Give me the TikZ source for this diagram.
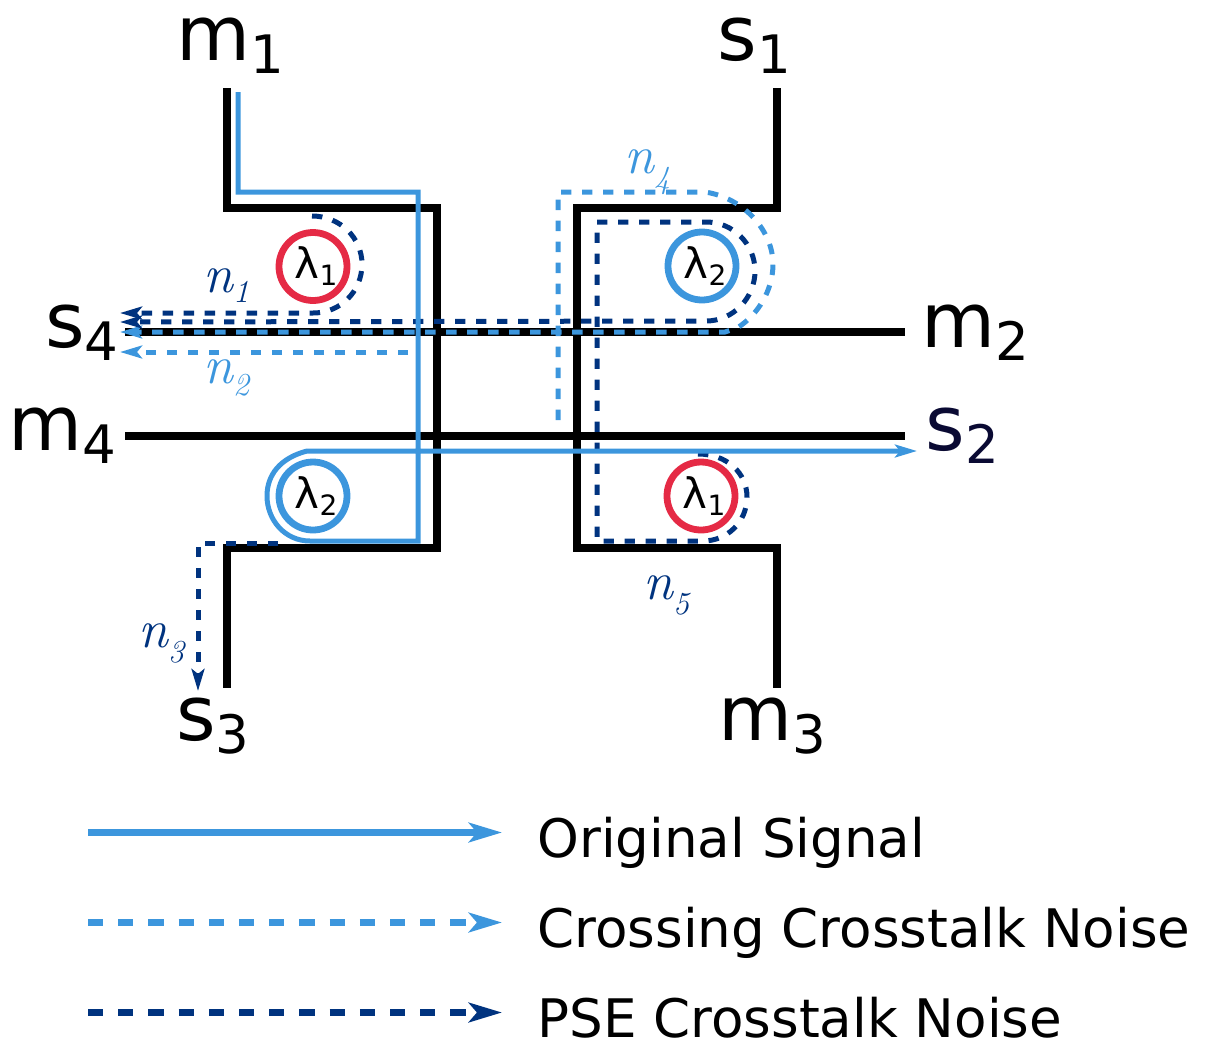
\documentclass[tikz,border=0pt]{standalone}
\usepackage{fontspec}
\setmainfont{DejaVu Sans}
\usetikzlibrary{arrows.meta,positioning,calc}
\definecolor{sigblue}{HTML}{3C96DD}
\definecolor{psenavy}{HTML}{00337F}
\definecolor{ringred}{HTML}{E52A45}
\definecolor{portnavy}{HTML}{0A0A33}
\newcommand{\portname}[2]{#1\raisebox{-6.5pt}{\fontsize{26.5}{26.5}\selectfont #2}}
\newcommand{\noisename}[3][6pt]{#2\raisebox{-#1}{\fontsize{16}{16}\selectfont #3}}
\newcommand{\lamname}[1]{\kern3pt λ\raisebox{-3.5pt}{\fontsize{14}{14}\selectfont #1}}

\begin{document}
\begin{tikzpicture}[
  x=0.5pt,y=-0.5pt,
  wguide/.style={line width=3.55pt,black,line join=miter},
  sigarc/.style={line width=2.5pt,sigblue,-{Stealth[length=11pt,width=6.4pt,inset=2.5pt]}},
  xarc/.style={line width=2.5pt,sigblue,dash pattern=on 5.2pt off 5.3pt,-{Stealth[length=11pt,width=6.4pt,inset=2.5pt]}},
  parc/.style={line width=2.5pt,psenavy,dash pattern=on 5.2pt off 5.3pt,-{Stealth[length=11pt,width=6.4pt,inset=2.5pt]}},
  ring/.style={circle,draw,line width=3.4pt,minimum size=34pt,inner sep=0pt,font=\fontsize{21}{21}\selectfont},
  port/.style={anchor=base west,inner sep=0pt,font=\fontsize{38}{38}\selectfont},
  noise/.style={anchor=base west,inner sep=0pt,font=\fontfamily{lmr}\fontsize{27}{27}\selectfont\itshape},
  legtxt/.style={anchor=base west,inner sep=0pt,text depth=0pt,font=\fontsize{26.55}{26.55}\selectfont},
  legsig/.style={line width=3.65pt,sigblue,-{Stealth[length=16.5pt,width=9.7pt,inset=4pt]}},
  legx/.style={legsig,dash pattern=on 7.6pt off 7.5pt},
  legp/.style={legsig,psenavy,dash pattern=on 7.6pt off 7.5pt},
]
  \useasboundingbox (0,0) rectangle (1216,1045);

  % port labels
  \node[port] (m1) at (176,60) {\portname{m}{1}};
  \node[port] (s1) at (717,60) {\portname{s}{1}};
  \node[port] (s4) at (45,347) {\portname{s}{4}};
  \node[port] (m2) at (921,347) {\portname{m}{2}};
  \node[port] (m4) at (8,450) {\portname{m}{4}};
  \node[port,text=portnavy] (s2) at (925,450) {\portname{s}{2}};
  \node[port] (s3) at (176,740) {\portname{s}{3}};
  \node[port] (m3) at (718,740) {\portname{m}{3}};

  % waveguide ends
  \coordinate (m1end) at (227,88);
  \coordinate (s3end) at (227,688);
  \coordinate (s1end) at (777,88);
  \coordinate (m3end) at (777,688);
  \coordinate (s4end) at (125,332);
  \coordinate (m2end) at (905,332);
  \coordinate (m4end) at (125,436);
  \coordinate (s2end) at (905,436);

  % Waveguides
  \draw[wguide] (m1end) -- (227,208) -- (437,208) -- (437,548) -- (227,548) -- (s3end);
  \draw[wguide] (s1end) -- (777,208) -- (577,208) -- (577,548) -- (777,548) -- (m3end);
  \draw[wguide] (s4end) -- (m2end);
  \draw[wguide] (m4end) -- (s2end);

  % Microrings
  \node[ring,draw=ringred] (r1a) at (313,266.5) {\lamname{1}};
  \node[ring,draw=sigblue] (r2a) at (702,266) {\lamname{2}};
  \node[ring,draw=sigblue] (r2b) at (313,496) {\lamname{2}};
  \node[ring,draw=ringred] (r1b) at (701,496) {\lamname{1}};

  % Crossing noise n2, n4
  \draw[xarc] (408,352) -- (120,352);
  \draw[xarc] (558,420) -- (558,192) -- (705,192)
    .. controls (745,198) and (773,232) .. (773,264)
    .. controls (773,290) and (758,315) .. (737,328) -- (725,332) -- (120,332);

  % PSE noise n1, n3, n5
  \draw[parc] (312,216) .. controls (340,216) and (362,238) .. (362,264)
    .. controls (362,292) and (340,313) .. (313,313) -- (120,313);
  \draw[parc] (278,543) -- (198,543) -- (198,691);
  \draw[parc] (698,454) .. controls (727,454) and (747,473) .. (747,497)
    .. controls (747,522) and (727,541) .. (703,541) -- (597,541) -- (597,222) -- (706,222)
    .. controls (733,222) and (755,244) .. (755,271)
    .. controls (755,298) and (733,321) .. (706,321) -- (120,322);

  % Original signal
  \draw[sigarc] (238,92) -- (238,192) -- (418,192) -- (418,541) -- (310,541)
    .. controls (285,541) and (267,520) .. (267,496)
    .. controls (267,475) and (280,458) .. (307,451) -- (917,451);

  % noise labels
  \node[noise,text=psenavy] (n1) at (203,292) {\noisename[5pt]{n}{1}};
  \node[noise,text=sigblue] (n2) at (203,383) {\noisename{n}{2}};
  \node[noise,text=psenavy] (n3) at (138,647) {\noisename[7.5pt]{n}{3}};
  \node[noise,text=sigblue] (n4) at (624,173) {\noisename[7.5pt]{n}{4}};
  \node[noise,text=psenavy] (n5) at (643,599) {\noisename[7.5pt]{n}{5}};

  % Legend
  \coordinate (leg1a) at (88,832.5);
  \coordinate (leg1b) at (502,832.5);
  \coordinate (leg2a) at (88,922.5);
  \coordinate (leg2b) at (502,922.5);
  \coordinate (leg3a) at (88,1012.5);
  \coordinate (leg3b) at (502,1012.5);
  \draw[legsig] (leg1a) -- (leg1b);
  \draw[legx] (leg2a) -- (leg2b);
  \draw[legp] (leg3a) -- (leg3b);
  \node[legtxt] (leg1) at (537,857) {Original Signal};
  \node[legtxt] (leg2) at (537,947) {Crossing Crosstalk Noise};
  \node[legtxt] (leg3) at (537,1037) {PSE Crosstalk Noise};
\end{tikzpicture}
\end{document}
